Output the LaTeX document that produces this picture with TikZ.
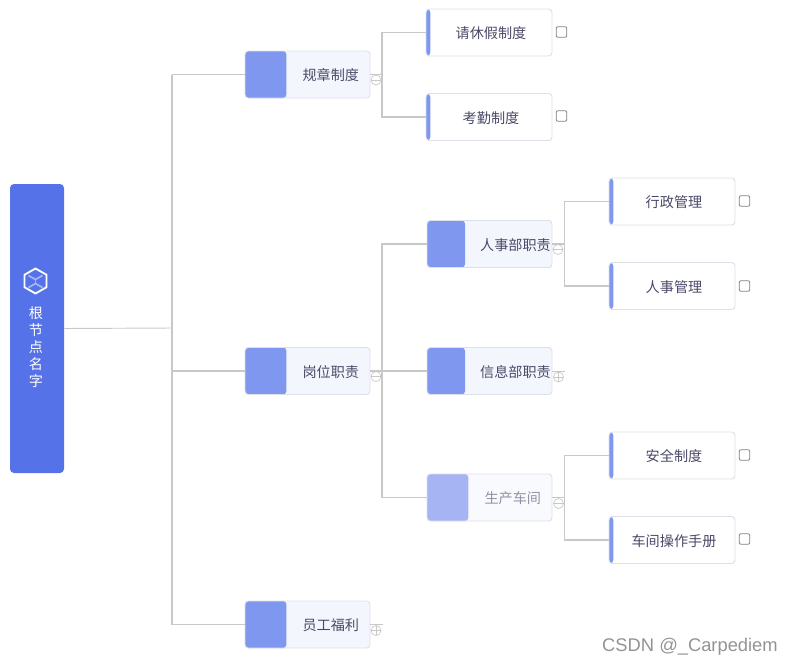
\documentclass[tikz,border=0pt]{standalone}
\usepackage{fontspec}
\setmainfont{Noto Sans CJK SC}
\newfontfamily\markfont{Liberation Sans}
\usepackage{xcolor}
\usetikzlibrary{arrows.meta,positioning,calc}
\definecolor{rootblue}{HTML}{5572E8}
\definecolor{blockblue}{HTML}{7F97EE}
\definecolor{fadeblue}{HTML}{A6B4F3}
\definecolor{paleblue}{HTML}{F4F6FE}
\definecolor{edgegray}{HTML}{DEE0E8}
\definecolor{linegray}{HTML}{C8C8C8}
\definecolor{inkblue}{HTML}{4A4A68}

\begin{document}
\begin{tikzpicture}[x=.75pt,y=-.75pt,
  every node/.style={font=\fontsize{10.6pt}{13pt}\selectfont,text=inkblue},
  link/.style={draw=linegray,line width=1.2pt},
  rootbox/.style={rectangle,rounded corners=3pt,fill=rootblue,minimum width=40.5pt,minimum height=216.75pt,inner sep=0pt},
  midbox/.style={rectangle,rounded corners=2.5pt,draw=edgegray,line width=.7pt,fill=paleblue,
    minimum width=93.75pt,minimum height=35.25pt,inner sep=0pt,text height=9.5pt,text depth=0pt,
    execute at begin node={\hspace*{35pt}},
    path picture={\fill[#1] (path picture bounding box.south west) rectangle ([xshift=31pt]path picture bounding box.north west);}},
  midbox/.default=blockblue,
  narrowbox/.style={midbox,
    execute at begin node={\hspace*{4pt}},
    path picture={\fill[blockblue] (path picture bounding box.south west) rectangle ([xshift=28.5pt]path picture bounding box.north west);}},
  leafbox/.style={rectangle,rounded corners=2.5pt,draw=edgegray,line width=.7pt,fill=white,
    minimum width=94.5pt,minimum height=35.25pt,inner sep=0pt,text height=9.5pt,text depth=0pt,
    execute at begin node={\hspace*{3pt}},
    path picture={\fill[blockblue] (path picture bounding box.south west) rectangle ([xshift=3.2pt]path picture bounding box.north west);}},
  tickbox/.style={rectangle,rounded corners=1.5pt,draw=black!50,line width=.6pt,fill=white,minimum size=8pt,inner sep=0pt},
  foldminus/.style={circle,draw=linegray,line width=.5pt,fill=white,minimum size=7.5pt,inner sep=0pt,
    path picture={\draw[linegray,line width=.5pt] (path picture bounding box.west) -- (path picture bounding box.east);}},
  foldplus/.style={foldminus,
    path picture={\draw[linegray,line width=.5pt] (path picture bounding box.west) -- (path picture bounding box.east)
      (path picture bounding box.north) -- (path picture bounding box.south);}}]
\useasboundingbox (0,0) rectangle (793,664);
\coordinate (trunk) at (172,328);
\coordinate (icon) at (35.5,281);
% root
\node[rootbox] (root) at (37,328.5) {};
\node[text=white,align=center,font=\fontsize{10.6pt}{12.8pt}\selectfont] (rootlabel) at (36,347) {根\\节\\点\\名\\字};
\draw[white,line width=1.4pt,line join=round] ($(icon)+(0,-12.5)$) -- ++(11,6.25) -- ++(0,12.5) -- ++(-11,6.25) -- ++(-11,-6.25) -- ++(0,-12.5) -- cycle;
\draw[fadeblue,line width=1.3pt] ($(icon)+(-7,-5.5)$) -- ($(icon)+(0,-1.5)$) -- ($(icon)+(7,-5.5)$);
\draw[fadeblue,line width=1.3pt] ($(icon)+(-7,6.5)$) -- ($(icon)+(0,2.5)$) -- ($(icon)+(7,6.5)$);
\draw[fadeblue,line width=1.3pt] ($(icon)+(0,-1.5)$) -- ($(icon)+(0,2.5)$);
% second level
\node[midbox] (rules) at (307.5,74.5) {规章制度};
\node[midbox] (duty) at (307.5,371) {岗位职责};
\node[midbox] (welfare) at (307.5,624.5) {员工福利};
% third level
\node[narrowbox] (hr) at (489.5,244) {人事部职责};
\node[narrowbox] (info) at (489.5,371) {信息部职责};
\node[midbox=fadeblue,fill=paleblue!60,text=inkblue!60] (prod) at (489.5,497.5) {生产车间};
% leaves
\node[leafbox] (leave) at (489,32.5) {请休假制度};
\node[leafbox] (attend) at (489,117) {考勤制度};
\node[leafbox] (admin) at (672,201.5) {行政管理};
\node[leafbox] (staff) at (672,286) {人事管理};
\node[leafbox] (safety) at (672,455.5) {安全制度};
\node[leafbox] (manual) at (672,540) {车间操作手册};
% connectors
\draw[link,line width=.7pt] (root.east) -- (trunk);
\draw[link] (trunk |- rules.west) -- (trunk |- welfare.west);
\draw[link] (trunk |- rules.west) -- (rules.west);
\draw[link] (trunk |- duty.west) -- (duty.west);
\draw[link] (trunk |- welfare.west) -- (welfare.west);
\draw[link] (rules.east) -- ++(11.5,0) |- (leave.west);
\draw[link] (rules.east) -- ++(11.5,0) |- (attend.west);
\draw[link] (duty.east) -- (info.west);
\draw[link] (duty.east) -- ++(11.5,0) |- (hr.west);
\draw[link] (duty.east) -- ++(11.5,0) |- (prod.west);
\draw[link] (hr.east) -- ++(12,0) |- (admin.west);
\draw[link] (hr.east) -- ++(12,0) |- (staff.west);
\draw[link] (prod.east) -- ++(12,0) |- (safety.west);
\draw[link] (prod.east) -- ++(12,0) |- (manual.west);
\draw[link,line width=.7pt] (info.east) -- ++(13,0);
\draw[link,line width=.7pt] (welfare.east) -- ++(13,0);
% fold marks
\node[foldminus] (foldrules) at (376,80) {};
\node[foldminus] (foldduty) at (376,376.5) {};
\node[foldminus] (foldhr) at (558,249.5) {};
\node[foldplus] (foldinfo) at (558.5,377) {};
\node[foldminus] (foldprod) at (558.5,503.5) {};
\node[foldplus] (foldwelfare) at (376,630.5) {};
% check boxes
\node[tickbox] (tickleave) at (561.5,32) {};
\node[tickbox] (tickattend) at (561.5,116) {};
\node[tickbox] (tickadmin) at (744.5,201) {};
\node[tickbox] (tickstaff) at (744.5,286) {};
\node[tickbox] (ticksafety) at (744.5,455) {};
\node[tickbox] (tickmanual) at (744.5,539) {};
\node[text=gray!85,font=\markfont\fontsize{13.75pt}{15pt}\selectfont] (mark) at (690,646.5) {CSDN @\_Carpediem};
\end{tikzpicture}
\end{document}
